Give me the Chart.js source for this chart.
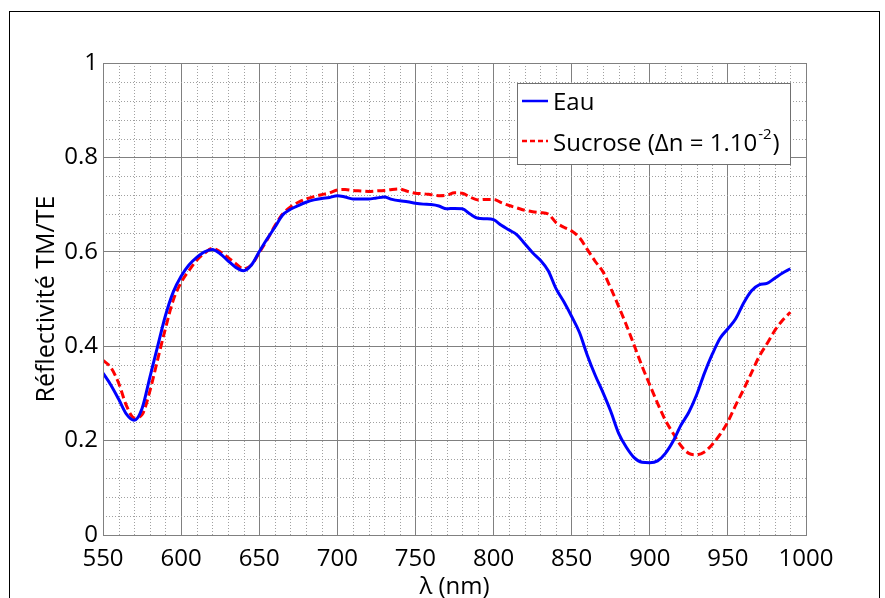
<!DOCTYPE html>
<html>
<head>
<meta charset="utf-8">
<script src="https://cdn.jsdelivr.net/npm/chart.js@4.4.1/dist/chart.umd.min.js"></script>
<style>
  body { margin: 0; background: #fff; }
  canvas { display: block; }
</style>
</head>
<body>
<canvas id="myChart" width="885" height="598"></canvas>
<script>
const lambda = [550, 555, 560, 565, 570, 575, 580, 585, 590, 595,
  600, 605, 610, 615, 620, 625, 630, 635, 640, 645,
  650, 655, 660, 665, 670, 675, 680, 685, 690, 695,
  700, 705, 710, 715, 720, 725, 730, 735, 740, 745,
  750, 755, 760, 765, 770, 775, 780, 785, 790, 795,
  800, 805, 810, 815, 820, 825, 830, 835, 840, 845,
  850, 855, 860, 865, 870, 875, 880, 885, 890, 895,
  900, 905, 910, 915, 920, 925, 930, 935, 940, 945,
  950, 955, 960, 965, 970, 975, 980, 985, 990];

const eau = [0.343, 0.318, 0.288, 0.256, 0.243, 0.268, 0.334, 0.400, 0.465, 0.515,
  0.548, 0.572, 0.588, 0.600, 0.605, 0.596, 0.581, 0.567, 0.560, 0.572,
  0.600, 0.627, 0.652, 0.678, 0.690, 0.698, 0.705, 0.710, 0.713, 0.715,
  0.719, 0.716, 0.712, 0.712, 0.712, 0.714, 0.716, 0.711, 0.708, 0.706,
  0.703, 0.701, 0.700, 0.697, 0.691, 0.692, 0.691, 0.680, 0.671, 0.670,
  0.668, 0.656, 0.646, 0.636, 0.617, 0.598, 0.582, 0.560, 0.522, 0.494,
  0.463, 0.429, 0.381, 0.339, 0.302, 0.262, 0.216, 0.186, 0.164, 0.154,
  0.153, 0.157, 0.173, 0.199, 0.233, 0.260, 0.297, 0.343, 0.383, 0.417,
  0.437, 0.458, 0.491, 0.517, 0.530, 0.533, 0.544, 0.555, 0.564];

const sucrose = [0.370, 0.355, 0.322, 0.274, 0.248, 0.255, 0.305, 0.372, 0.438, 0.498,
  0.535, 0.560, 0.582, 0.597, 0.607, 0.600, 0.588, 0.575, 0.564, 0.572,
  0.598, 0.625, 0.655, 0.680, 0.695, 0.705, 0.712, 0.717, 0.721, 0.725,
  0.731, 0.732, 0.730, 0.729, 0.728, 0.729, 0.730, 0.732, 0.733, 0.728,
  0.724, 0.723, 0.721, 0.719, 0.720, 0.725, 0.724, 0.716, 0.710, 0.711,
  0.711, 0.704, 0.698, 0.693, 0.688, 0.685, 0.683, 0.680, 0.662, 0.652,
  0.644, 0.630, 0.605, 0.580, 0.558, 0.523, 0.485, 0.445, 0.402, 0.358,
  0.318, 0.279, 0.243, 0.215, 0.189, 0.173, 0.170, 0.176, 0.192, 0.213,
  0.240, 0.275, 0.308, 0.343, 0.378, 0.405, 0.433, 0.455, 0.472];

const xMin = 550, xMax = 1000, xStep = 50, xMinor = 10;
const yMin = 0, yMax = 1, yStep = 0.2, yMinor = 0.04;

const FONT = "'Open Sans', sans-serif";

// minor dotted grid, plot frame, page border and legend
const decor = {
  id: 'decor',
  beforeDatasetsDraw(chart) {
    const { ctx, chartArea: a, scales: { x, y } } = chart;
    ctx.save();
    ctx.strokeStyle = '#a0a0a0';
    ctx.lineWidth = 1;
    ctx.setLineDash([1, 2]);
    for (let v = xMin + xMinor; v < xMax; v += xMinor) {
      if (Math.abs(v % xStep) < 1e-6) continue;
      const px = Math.round(x.getPixelForValue(v)) + 0.5;
      ctx.beginPath(); ctx.moveTo(px, a.top); ctx.lineTo(px, a.bottom); ctx.stroke();
    }
    for (let i = 1; i < Math.round((yMax - yMin) / yMinor); i++) {
      const v = yMin + i * yMinor;
      if (Math.abs(v / yStep - Math.round(v / yStep)) < 1e-6) continue;
      const py = Math.round(y.getPixelForValue(v)) + 0.5;
      ctx.beginPath(); ctx.moveTo(a.left, py); ctx.lineTo(a.right, py); ctx.stroke();
    }
    ctx.restore();
  },
  afterDraw(chart) {
    const { ctx, chartArea: a } = chart;
    ctx.save();
    // frame of the plot
    ctx.strokeStyle = '#808080';
    ctx.lineWidth = 1;
    ctx.strokeRect(a.left + 0.5, a.top + 0.5, a.right - a.left, a.bottom - a.top);
    // page border
    ctx.strokeStyle = '#000';
    ctx.strokeRect(9.5, 11.5, 870, 700);

    // legend
    const lx = 517, ly = 83, lw = 273, lh = 81;
    ctx.fillStyle = '#fff';
    ctx.fillRect(lx, ly, lw, lh);
    ctx.strokeStyle = '#707070';
    ctx.strokeRect(lx + 0.5, ly + 0.5, lw, lh);

    ctx.lineWidth = 2.5;
    ctx.strokeStyle = '#0000ff';
    ctx.beginPath(); ctx.moveTo(522, 101); ctx.lineTo(548, 101); ctx.stroke();
    ctx.strokeStyle = '#ff0000';
    ctx.setLineDash([5, 3]);
    ctx.beginPath(); ctx.moveTo(522, 141); ctx.lineTo(548, 141); ctx.stroke();
    ctx.setLineDash([]);

    ctx.fillStyle = '#000';
    ctx.textBaseline = 'alphabetic';
    ctx.textAlign = 'left';
    ctx.font = '24px ' + FONT;
    ctx.fillText('Eau', 553, 110);
    let t = 'Sucrose (\u0394n = 1.10';
    ctx.fillText(t, 553, 151);
    let w = ctx.measureText(t).width;
    ctx.font = '15px ' + FONT;
    ctx.fillText('-2', 553 + w + 1, 139);
    const w2 = ctx.measureText('-2').width;
    ctx.font = '24px ' + FONT;
    ctx.fillText(')', 553 + w + w2 + 2, 151);
    ctx.restore();
  }
};

const ctx = document.getElementById('myChart');

const myChart = new Chart(ctx, {
  type: 'line',
  data: {
    labels: lambda,
    datasets: [{
      label: 'Eau',
      data: lambda.map((l, i) => ({ x: l, y: eau[i] })),
      borderColor: '#0000ff',
      borderWidth: 3,
      pointRadius: 0,
      cubicInterpolationMode: 'monotone'
    }, {
      label: 'Sucrose',
      data: lambda.map((l, i) => ({ x: l, y: sucrose[i] })),
      borderColor: '#ff0000',
      borderWidth: 3,
      borderDash: [8, 4],
      pointRadius: 0,
      cubicInterpolationMode: 'monotone'
    }]
  },
  options: {
    responsive: false,
    animation: false,
    layout: { padding: { top: 63, right: 79, left: 32, bottom: 0 } },
    plugins: {
      legend: { display: false },
      tooltip: { enabled: false }
    },
    scales: {
      x: {
        type: 'linear',
        min: xMin,
        max: xMax,
        afterFit(scale) { scale.height = 63; },
        afterBuildTicks(scale) {
          scale.ticks = [];
          for (let v = xMin; v <= xMax; v += xStep) scale.ticks.push({ value: v });
        },
        grid: { color: '#808080', lineWidth: 1, drawTicks: false },
        border: { color: '#808080' },
        ticks: {
          color: '#000',
          padding: 10,
          font: { family: FONT, size: 24 },
          callback: v => String(v)
        },
        title: {
          display: true,
          text: '\u03bb (nm)',
          color: '#000',
          padding: { top: 0, bottom: -4 },
          font: { family: FONT, size: 24 }
        }
      },
      y: {
        min: yMin,
        max: yMax,
        afterFit(scale) { scale.width = 71; },
        afterBuildTicks(scale) {
          scale.ticks = [];
          for (let i = 0; i <= 5; i++) scale.ticks.push({ value: +(yMin + i * yStep).toFixed(1) });
        },
        grid: { color: '#808080', lineWidth: 1, drawTicks: false },
        border: { color: '#808080' },
        ticks: {
          color: '#000',
          padding: 5,
          font: { family: FONT, size: 24 },
          callback: v => String(+v.toFixed(1))
        },
        title: {
          display: true,
          text: 'Réflectivité TM/TE',
          color: '#000',
          padding: { top: 0, bottom: 0 },
          font: { family: FONT, size: 25 }
        }
      }
    }
  },
  plugins: [decor]
});
</script>
</body>
</html>
